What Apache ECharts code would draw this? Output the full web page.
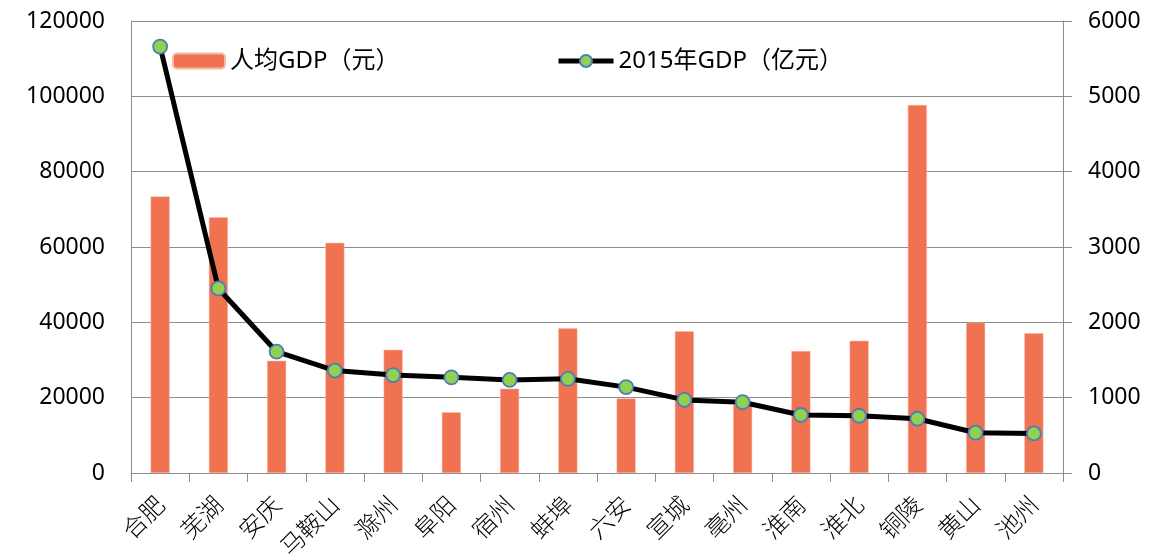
<!DOCTYPE html>
<html>
<head>
<meta charset="utf-8">
<script src="https://cdn.jsdelivr.net/npm/echarts@6/dist/echarts.min.js"></script>
<style>
html,body{margin:0;padding:0;background:#fff;}
#chart{width:1172px;height:560px;}
</style>
</head>
<body>
<div id="chart"></div>
<script>
const cities = ['合肥','芜湖','安庆','马鞍山','滁州','阜阳','宿州','蚌埠','六安','宣城','亳州','淮南','淮北','铜陵','黄山','池州'];
const perCapitaGDP = [73400, 67900, 29800, 61100, 32700, 16100, 22400, 38400, 19800, 37600, 18100, 32400, 35100, 97700, 39900, 37100];
const gdp2015 = [5660, 2450, 1610, 1360, 1300, 1270, 1235, 1250, 1140, 970, 940, 770, 760, 720, 535, 525];
const leftTicks = {min: 0, max: 120000, interval: 20000};
const rightTicks = {min: 0, max: 6000, interval: 1000};
const barName = '人均GDP（元）';
const lineName = '2015年GDP（亿元）';

const latin = '"Noto Sans", "Noto Sans CJK SC", sans-serif';
const gray = '#8c8c8c';
const chart = echarts.init(document.getElementById('chart'), null, {renderer: 'canvas'});
const legendText = {fontSize: 24, color: '#000', fontFamily: latin, lineHeight: 24};
const plain = v => String(v);
chart.setOption({
  animation: false,
  backgroundColor: '#fff',
  grid: {left: 131, right: 109, top: 21, bottom: 87, containLabel: false, outerBoundsMode: 'none'},
  legend: [
    {data: [barName], left: 172, top: 49, itemWidth: 52, itemHeight: 15, textStyle: legendText, itemGap: 0, padding: 0},
    {data: [lineName], left: 556, top: 49, itemWidth: 55, itemHeight: 15, textStyle: legendText, itemGap: 0, padding: 0,
     lineStyle: {width: 5, color: '#000'}}
  ],
  xAxis: {
    type: 'category',
    data: cities,
    axisLine: {lineStyle: {color: gray, width: 1}},
    axisTick: {show: true, length: 9, lineStyle: {color: gray}},
    axisLabel: {rotate: 45, margin: 27, fontSize: 24, fontWeight: 300, color: '#000', fontFamily: '"Noto Sans CJK SC", sans-serif', interval: 0}
  },
  yAxis: [
    {
      type: 'value', min: leftTicks.min, max: leftTicks.max, interval: leftTicks.interval,
      axisLine: {show: true, lineStyle: {color: gray}},
      axisTick: {show: false},
      splitLine: {show: true, lineStyle: {color: gray, width: 1}},
      axisLabel: {margin: 26, fontSize: 23, color: '#000', fontFamily: latin, formatter: plain}
    },
    {
      type: 'value', min: rightTicks.min, max: rightTicks.max, interval: rightTicks.interval,
      position: 'right',
      axisLine: {show: true, lineStyle: {color: gray}},
      axisTick: {show: true, length: 9, lineStyle: {color: gray}},
      splitLine: {show: false},
      axisLabel: {margin: 25, fontSize: 23, color: '#000', fontFamily: latin, formatter: plain}
    }
  ],
  series: [
    {
      name: barName, type: 'bar', yAxisIndex: 0, data: perCapitaGDP, barWidth: 19,
      itemStyle: {color: '#F07250', borderColor: '#F8B8A4', borderWidth: 0.5}
    },
    {
      name: lineName, type: 'line', yAxisIndex: 1, data: gdp2015,
      symbol: 'circle', symbolSize: 14,
      lineStyle: {color: '#000', width: 5},
      itemStyle: {color: '#92D050', borderColor: '#4A7EBB', borderWidth: 1.8}
    }
  ]
});
</script>
</body>
</html>
